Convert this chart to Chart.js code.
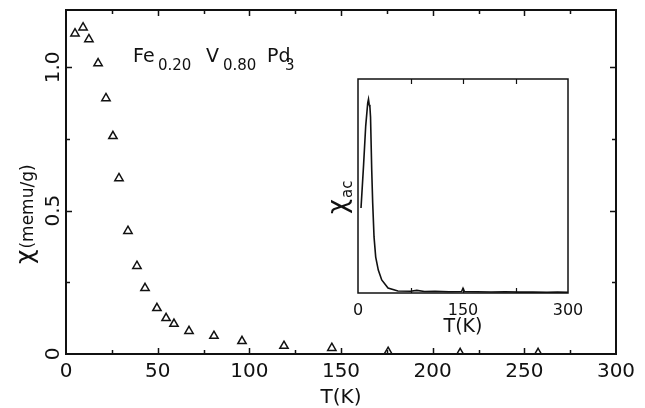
<!DOCTYPE html>
<html>
<head>
<meta charset="utf-8">
<script src="https://cdn.jsdelivr.net/npm/chart.js@4"></script>
<style>
  html, body { margin: 0; padding: 0; background: #fff; }
  #wrap { position: relative; width: 645px; height: 408px; }
  #main { position: absolute; left: 0; top: 0; }
  #inset { position: absolute; left: 320px; top: 70px; }
</style>
</head>
<body>
<div id="wrap">
  <canvas id="main" width="645" height="408"></canvas>
  <canvas id="inset" width="280" height="270"></canvas>
</div>
<script>
// DC susceptibility of Fe0.20 V0.80 Pd3 versus temperature
const temperatureK = [4.9, 9.3, 12.5, 17.5, 21.8, 25.6, 28.9, 33.8, 38.7, 43.1, 49.6,
                      54.6, 58.9, 67.1, 80.7, 96.0, 118.9, 145.0, 175.7, 215.0, 257.5];
const chiMemuPerG  = [1.118, 1.139, 1.098, 1.014, 0.892, 0.760, 0.613, 0.429, 0.307, 0.230, 0.160,
                      0.125, 0.105, 0.080, 0.063, 0.045, 0.028, 0.021, 0.007, 0.003, 0.003];

// AC susceptibility trace (arbitrary units) for the inset
const acTemperatureK = [4.3, 8, 11, 13.9, 15, 16, 17, 17.9, 19.6, 21, 22.9, 25.3, 29, 33.9, 42.9,
                        57, 75, 84, 95, 110, 130, 148, 150, 152, 170, 190, 210, 230, 250, 270, 285, 300];
const chiAc        = [0.397, 0.60, 0.78, 0.888, 0.905, 0.88, 0.87, 0.822, 0.575, 0.42, 0.262, 0.168, 0.107, 0.061, 0.023,
                      0.009, 0.008, 0.012, 0.007, 0.008, 0.006, 0.007, 0.022, 0.007, 0.006, 0.005, 0.006, 0.004, 0.005, 0.003, 0.004, 0.003];

const mainTicksX = [0, 50, 100, 150, 200, 250, 300];
const mainTicksY = [0, 0.5, 1.0];
const insetTicksX = [0, 150, 300];

const FONT = '"DejaVu Sans", sans-serif';
const INK = '#111';

// Inward tick marks and a closed frame around the plot area
function frameAndTicks(opts) {
  return {
    id: 'frameAndTicks',
    afterDraw(chart) {
      const { ctx, chartArea: a, scales } = chart;
      const xs = scales.x, ys = scales.y;
      ctx.save();
      ctx.strokeStyle = INK;
      ctx.lineWidth = opts.tickWidth;
      ctx.beginPath();
      for (let v = xs.min; v <= xs.max + 1e-9; v += opts.xMinor) {
        if (v === xs.min || v === xs.max) continue;
        const p = Math.round(xs.getPixelForValue(v)) + 0.5;
        const major = Math.abs(v / opts.xMajor - Math.round(v / opts.xMajor)) < 1e-6;
        const len = major ? opts.major : opts.minor;
        if (opts.bottom) { ctx.moveTo(p, a.bottom); ctx.lineTo(p, a.bottom - len); }
        if (opts.top) { ctx.moveTo(p, a.top); ctx.lineTo(p, a.top + len); }
      }
      if (opts.yMinor) {
        for (let v = ys.min; v <= ys.max + 1e-9; v += opts.yMinor) {
          if (v <= ys.min + 1e-9 || v >= ys.max - 1e-9) continue;
          const p = Math.round(ys.getPixelForValue(v)) + 0.5;
          const major = Math.abs(v / opts.yMajor - Math.round(v / opts.yMajor)) < 1e-6;
          const len = major ? opts.major : opts.minor;
          ctx.moveTo(a.left, p); ctx.lineTo(a.left + len, p);
          ctx.moveTo(a.right, p); ctx.lineTo(a.right - len, p);
        }
      }
      ctx.stroke();
      ctx.lineWidth = opts.frameWidth;
      ctx.strokeRect(a.left, a.top, a.right - a.left, a.bottom - a.top);
      ctx.restore();
    }
  };
}

// Mixed-size annotation text (formula and axis title)
const mainText = {
  id: 'mainText',
  afterDraw(chart) {
    const ctx = chart.ctx;
    ctx.save();
    ctx.fillStyle = INK;
    ctx.textBaseline = 'alphabetic';
    // compound formula
    const parts = [
      ['Fe', 19, 133, 62], ['0.20', 15, 158, 70],
      ['V', 19, 206, 62], ['0.80', 15, 223, 70],
      ['Pd', 19, 267, 62], ['3', 15, 285, 70]
    ];
    for (const [t, s, x, y] of parts) {
      ctx.font = s + 'px ' + FONT;
      ctx.fillText(t, x, y);
    }
    // rotated y-axis title
    ctx.translate(33, 264);
    ctx.rotate(-Math.PI / 2);
    ctx.font = '25px ' + FONT;
    ctx.fillText('χ', 0, 0);
    const w = ctx.measureText('χ').width;
    ctx.font = '17px ' + FONT;
    ctx.fillText('(memu/g)', w + 1, 0);
    ctx.restore();
  }
};

const insetText = {
  id: 'insetText',
  afterDraw(chart) {
    const ctx = chart.ctx;
    ctx.save();
    ctx.fillStyle = INK;
    ctx.translate(26, 144);
    ctx.rotate(-Math.PI / 2);
    ctx.font = '26px ' + FONT;
    ctx.fillText('χ', 0, 0);
    const w = ctx.measureText('χ').width;
    ctx.font = '15px ' + FONT;
    ctx.fillText('ac', w + 1, 6);
    ctx.restore();
  }
};

new Chart(document.getElementById('main'), {
  type: 'scatter',
  data: {
    datasets: [{
      data: temperatureK.map((t, i) => ({ x: t, y: chiMemuPerG[i] })),
      pointStyle: 'triangle',
      pointRadius: 4.8,
      pointBorderWidth: 1.5,
      pointBorderColor: INK,
      pointBackgroundColor: 'rgba(255,255,255,0)'
    }]
  },
  options: {
    responsive: false,
    animation: false,
    events: [],
    layout: { padding: { left: 0, right: 29, top: 10, bottom: 0 } },
    plugins: { legend: { display: false }, tooltip: { enabled: false } },
    scales: {
      x: {
        type: 'linear', min: 0, max: 300,
        afterBuildTicks: s => { s.ticks = mainTicksX.map(v => ({ value: v })); },
        afterFit: s => { s.height = 54; },
        grid: { display: false, drawTicks: false },
        border: { display: false },
        ticks: { color: INK, font: { family: FONT, size: 20 }, padding: 6, maxRotation: 0 },
        title: { display: true, text: 'T(K)', color: INK, font: { family: FONT, size: 20, lineHeight: 1 }, padding: { top: 0, bottom: 0 } }
      },
      y: {
        type: 'linear', min: 0, max: 1.2,
        afterBuildTicks: s => { s.ticks = mainTicksY.map(v => ({ value: v })); },
        afterFit: s => { s.width = 66; },
        grid: { display: false, drawTicks: false },
        border: { display: false },
        ticks: {
          color: INK, font: { family: FONT, size: 20 }, padding: -4,
          minRotation: 90, maxRotation: 90, crossAlign: 'center',
          callback: v => (v === 0 ? '0' : v.toFixed(1))
        }
      }
    }
  },
  plugins: [frameAndTicks({ xMinor: 25, xMajor: 50, yMinor: 0.25, yMajor: 0.5, major: 6, minor: 4, tickWidth: 1.5, frameWidth: 2, top: true, bottom: true }), mainText]
});

new Chart(document.getElementById('inset'), {
  type: 'line',
  data: {
    datasets: [{
      data: acTemperatureK.map((t, i) => ({ x: t, y: chiAc[i] })),
      borderColor: INK,
      borderWidth: 1.6,
      pointRadius: 0,
      tension: 0,
      fill: false
    }]
  },
  options: {
    responsive: false,
    animation: false,
    events: [],
    layout: { padding: { left: 0, right: 32, top: 9, bottom: 0 } },
    plugins: { legend: { display: false }, tooltip: { enabled: false } },
    scales: {
      x: {
        type: 'linear', min: 0, max: 300,
        afterBuildTicks: s => { s.ticks = insetTicksX.map(v => ({ value: v })); },
        afterFit: s => { s.height = 47; },
        grid: { display: false, drawTicks: false },
        border: { display: false },
        ticks: { color: INK, font: { family: FONT, size: 16 }, padding: 8, maxRotation: 0 },
        title: { display: true, text: 'T(K)', color: INK, font: { family: FONT, size: 19, lineHeight: 1 }, padding: { top: 0, bottom: 3 } }
      },
      y: {
        type: 'linear', min: 0, max: 1,
        afterFit: s => { s.width = 38; },
        grid: { display: false, drawTicks: false },
        border: { display: false },
        ticks: { display: false }
      }
    }
  },
  plugins: [frameAndTicks({ xMinor: 75, xMajor: 150, yMinor: 0, yMajor: 1, major: 5, minor: 5, tickWidth: 1.2, frameWidth: 1.5, top: true, bottom: true }), insetText]
});
</script>
</body>
</html>
